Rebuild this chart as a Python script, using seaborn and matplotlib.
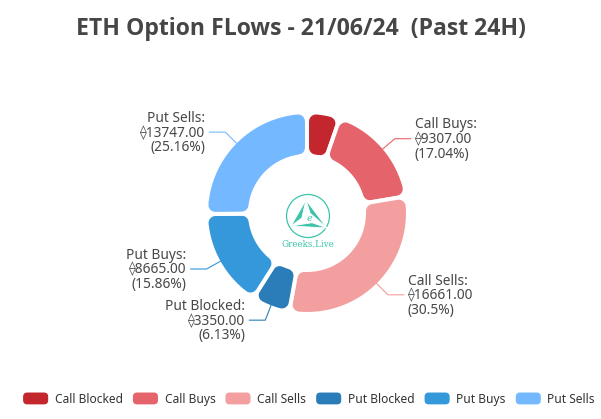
import numpy as np
import seaborn as sns
import matplotlib.pyplot as plt
from matplotlib.patches import Polygon, Circle, Patch, FancyBboxPatch
from matplotlib.legend_handler import HandlerPatch

categories = ['Call Blocked', 'Call Buys', 'Call Sells', 'Put Blocked', 'Put Buys', 'Put Sells']
values = [2900.00, 9307.00, 16661.00, 3350.00, 8665.00, 13747.00]
colors = ['#c3262c', '#e5636a', '#f49f9f', '#2a7db8', '#3498db', '#74b9ff']
show_label = [False, True, True, True, True, True]
title = 'ETH Option FLows - 21/06/24  (Past 24H)'

sns.set_theme(style='white')
plt.rcParams['font.family'] = ['Noto Sans', 'DejaVu Sans']

W, H = 601, 419
fig = plt.figure(figsize=(W / 100, H / 100), dpi=100)
ax = fig.add_axes([0, 0, 1, 1])
ax.set_xlim(0, W)
ax.set_ylim(H, 0)
ax.axis('off')

cx, cy = 307, 213
r_in, r_out = 57, 101
corner = 9


def polar(r, a):
    return np.array([cx + r * np.sin(a), cy - r * np.cos(a)])


def corner_arc(c, p, q, n=8):
    t0 = np.arctan2(p[1] - c[1], p[0] - c[0])
    t1 = np.arctan2(q[1] - c[1], q[0] - c[0])
    d = (t1 - t0 + np.pi) % (2 * np.pi) - np.pi
    rr = np.hypot(*(p - c))
    ts = t0 + d * np.linspace(0, 1, n)
    return [c + rr * np.array([np.cos(t), np.sin(t)]) for t in ts]


def rounded_sector(a0, a1, r0, r1, c):
    span = a1 - a0
    while c > 1 and (2 * np.arcsin(c / (r0 + c)) > span * 0.98):
        c -= 0.5
    do = np.arcsin(c / (r1 - c))
    di = np.arcsin(c / (r0 + c))
    pts = []
    for a in np.linspace(a0 + do, a1 - do, 40):
        pts.append(polar(r1, a))
    pts += corner_arc(polar(r1 - c, a1 - do), polar(r1, a1 - do), polar((r1 - c) * np.cos(do), a1))
    pts += corner_arc(polar(r0 + c, a1 - di), polar((r0 + c) * np.cos(di), a1), polar(r0, a1 - di))
    for a in np.linspace(a1 - di, a0 + di, 30):
        pts.append(polar(r0, a))
    pts += corner_arc(polar(r0 + c, a0 + di), polar(r0, a0 + di), polar((r0 + c) * np.cos(di), a0))
    pts += corner_arc(polar(r1 - c, a0 + do), polar((r1 - c) * np.cos(do), a0), polar(r1, a0 + do))
    return np.array(pts)


total = sum(values)
angles = np.concatenate([[0], np.cumsum(values)]) / total * 2 * np.pi

for i, (cat, v, col) in enumerate(zip(categories, values, colors)):
    a0, a1 = angles[i], angles[i + 1]
    pts = rounded_sector(a0, a1, r_in, r_out, corner)
    ax.add_patch(Polygon(pts, closed=True, fc=col, ec='white', lw=2.9, joinstyle='round'))
    if not show_label[i]:
        continue
    mid = (a0 + a1) / 2
    p1 = polar(99, mid)
    p2 = polar(115, mid)
    side = 1 if np.sin(mid) > 0 else -1
    p3 = p2 + np.array([side * 16, 0])
    ax.plot([p1[0], p2[0], p3[0]], [p1[1], p2[1], p3[1]], color=col, lw=0.8)
    pct = f'{v / total * 100:.2f}'.rstrip('0').rstrip('.')
    txt = f'{cat}:\n\u27e0{v:.2f}\n({pct}%)'
    ax.text(p3[0] + side * 4, p3[1] + 1, txt, ha='left' if side > 0 else 'right', va='center',
            multialignment='left' if side > 0 else 'right',
            fontsize=9.9, color='#474747', linespacing=0.98)

# center logo
teal = '#3cc3a9'
ax.add_patch(Circle((308, 216), 21.5, fill=False, ec=teal, lw=0.9))
A, B, C = np.array([306, 200]), np.array([291, 226]), np.array([327, 228])
G = (A + B + C) / 3
for P, Q in [(A, B), (B, C), (C, A)]:
    m = 0.5 * G + 0.5 * (0.3 * P + 0.7 * Q)
    ax.add_patch(Polygon([P, Q, m], closed=True, fc=teal, ec='white', lw=0.6))
ax.text(309, 218, 'e', ha='center', va='center', fontsize=7, color=teal, family='DejaVu Serif', style='italic')
ax.text(308, 244, 'Greeks.Live', ha='center', va='center', fontsize=6.3, color=teal, family='DejaVu Serif')

fig.text(0.5, 1 - 29 / H, title, ha='center', va='center', fontsize=16.6, fontweight='bold',
         color='#464646', family=['Open Sans', 'DejaVu Sans'])


class RoundHandler(HandlerPatch):
    def create_artists(self, legend, orig_handle, xdescent, ydescent, width, height, fontsize, trans):
        p = FancyBboxPatch((-xdescent, -ydescent), width, height,
                           boxstyle='round,pad=0,rounding_size=3',
                           fc=orig_handle.get_facecolor(), ec='none', transform=trans)
        return [p]


handles = [Patch(facecolor=c, label=l) for c, l in zip(colors, categories)]
fig.legend(handles=handles, loc='center', bbox_to_anchor=(309 / W, 1 - 399 / H), ncol=6,
           frameon=False, fontsize=8.6, handlelength=2.1, handleheight=1.15, handletextpad=0.55,
           columnspacing=0.85, labelcolor='#333333',
           handler_map={Patch: RoundHandler()})

fig.savefig('out.png', dpi=100)
